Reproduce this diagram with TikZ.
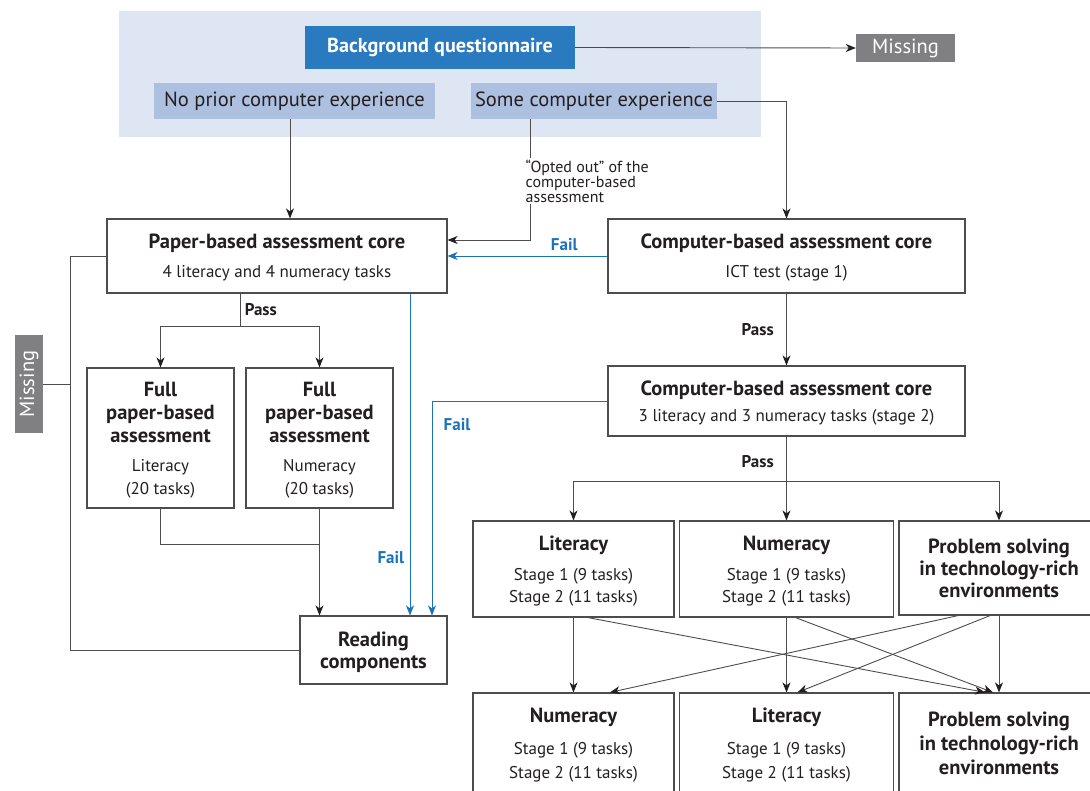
\documentclass[tikz,border=0pt]{standalone}
\usepackage{fontspec}
\setmainfont{PT Sans}
\usepackage{tikz}
\usetikzlibrary{arrows.meta}
\definecolor{panel_blue}{HTML}{DFE6F3}
\definecolor{head_blue}{HTML}{2A7ABF}
\definecolor{light_blue}{HTML}{AEC0E0}
\definecolor{miss_gray}{HTML}{808083}
\definecolor{fail_blue}{HTML}{1A72BB}
\definecolor{ink}{HTML}{231F20}
\definecolor{wire}{HTML}{4D4D4F}
\newcommand{\boxtitle}{\fontsize{20.5}{23}\selectfont\bfseries}
\newcommand{\boxtext}{\fontsize{17}{22}\selectfont}

\begin{document}
\begin{tikzpicture}[x=1pt,y=-1pt,
    box/.style={draw=wire, line width=1.2pt, fill=white, text=ink, align=center, inner sep=0pt, text depth=0pt, font=\boxtext},
    tag/.style={fill=light_blue, text=ink, inner sep=0pt, font=\fontsize{20.5}{22}\selectfont},
    misstag/.style={fill=miss_gray, text=white, inner sep=0pt, font=\fontsize{20.5}{22}\selectfont},
    plain/.style={draw=wire, line width=0.9pt},
    link/.style={plain, -{Stealth[length=10pt,width=8pt,inset=3pt,color=ink]}},
    faillink/.style={draw=fail_blue, line width=0.9pt, -{Stealth[length=10pt,width=8pt,inset=3pt]}},
    passlbl/.style={font=\fontsize{17}{18}\selectfont\bfseries, text=ink},
    faillbl/.style={font=\fontsize{17}{18}\selectfont\bfseries, text=fail_blue},
    note/.style={fill=white, text=ink, align=left, inner sep=1.5pt, font=\fontsize{16}{15}\selectfont}]
    \useasboundingbox (0,0) rectangle (1090,791);
    \clip (0,0) rectangle (1090,791);
    % Background questionnaire panel
    \fill[panel_blue] (119,11) rectangle (761,137);
    \node[fill=head_blue, text=white, font=\fontsize{20.2}{22}\selectfont\bfseries,
        minimum width=270, minimum height=43] (bq) at (440,47.5) {Background questionnaire};
    \node[misstag, minimum width=99, minimum height=28] (misstop) at (905.5,48) {Missing};
    \node[tag, minimum width=281, minimum height=36] (noprior) at (294.5,101) {No prior computer experience};
    \node[tag, minimum width=246, minimum height=36] (somecomp) at (594,101) {Some computer experience};
    % Paper branch
    \node[box, minimum width=340, minimum height=74] (paper) at (277,256)
        {{\boxtitle Paper-based assessment core}\\[7pt]4 literacy and 4 numeracy tasks};
    \node[box, minimum width=147, minimum height=140] (fulllit) at (160.5,438)
        {{\boxtitle Full}\\[1pt]{\boxtitle paper-based}\\[1pt]{\boxtitle assessment}\\[7pt]Literacy\\[1pt](20 tasks)};
    \node[box, minimum width=147, minimum height=140] (fullnum) at (319.5,438)
        {{\boxtitle Full}\\[1pt]{\boxtitle paper-based}\\[1pt]{\boxtitle assessment}\\[7pt]Numeracy\\[1pt](20 tasks)};
    \node[box, minimum width=147, minimum height=68] (reading) at (373.5,650)
        {{\boxtitle Reading}\\{\boxtitle components}};
    \node[misstag, minimum width=28, minimum height=98] (missleft) at (29,384) {\rotatebox{90}{Missing}};
    % Computer branch
    \node[box, minimum width=357, minimum height=74] (cc1) at (786.5,256)
        {{\boxtitle Computer-based assessment core}\\[7pt]ICT test (stage 1)};
    \node[box, minimum width=357, minimum height=70] (cc2) at (786.5,401)
        {{\boxtitle Computer-based assessment core}\\[4pt]3 literacy and 3 numeracy tasks (stage 2)};
    % Stage 1 modules
    \node[box, minimum width=201, minimum height=96] (lit1) at (573.5,569)
        {{\boxtitle Literacy}\\[8pt]Stage 1 (9 tasks)\\Stage 2 (11 tasks)};
    \node[box, minimum width=214, minimum height=96] (num1) at (786.5,569)
        {{\boxtitle Numeracy}\\[8pt]Stage 1 (9 tasks)\\Stage 2 (11 tasks)};
    \node[box, minimum width=200, minimum height=94] (prob1) at (999,568)
        {{\boxtitle Problem solving}\\{\boxtitle in technology-rich}\\{\boxtitle environments}};
    % Stage 2 modules
    \node[box, minimum width=201, minimum height=100] (num2) at (573.5,743)
        {{\boxtitle Numeracy}\\[10pt]Stage 1 (9 tasks)\\[2pt]Stage 2 (11 tasks)};
    \node[box, minimum width=214, minimum height=100] (lit2) at (786.5,743)
        {{\boxtitle Literacy}\\[10pt]Stage 1 (9 tasks)\\[2pt]Stage 2 (11 tasks)};
    \node[box, minimum width=200, minimum height=100] (prob2) at (999,743)
        {{\boxtitle Problem solving}\\[2pt]{\boxtitle in technology-rich}\\[2pt]{\boxtitle environments}};
    % Turning points
    \coordinate (optturn) at (530,240);
    \coordinate (failright) at (432,0);
    \coordinate (failleft) at (410,0);
    \coordinate (papersplit) at (240,326);
    \coordinate (fulljoin) at (319.5,544);
    \coordinate (missbar) at (70,0);
    \coordinate (cc2split) at (786.5,481);
    % Top connectors
    \draw[link] (bq.east) -- (misstop.west);
    \draw[link] ([xshift=-4.5pt]noprior.south) -- ([xshift=-4.5pt]noprior.south |- paper.north);
    \draw[link] (somecomp.south -| optturn) -- (optturn) -- (optturn -| paper.east);
    \node[note, anchor=north west] (optnote) at (524,158) {``Opted out'' of the\\computer-based\\assessment};
    \draw[link] (somecomp.east) -| (cc1.north);
    % Fail routes
    \draw[faillink] (cc1.west) -- node[faillbl, pos=0.27, above=1pt] {Fail} (paper.east);
    \draw[faillink] (cc2.west) -| node[faillbl, pos=0.5, xshift=25pt, yshift=-24pt] {Fail} (reading.north -| failright);
    \draw[faillink] (paper.south -| failleft) -- node[faillbl, pos=0.82, left=2pt] {Fail} (reading.north -| failleft);
    % Paper-based routes
    \draw[plain] (paper.south -| papersplit) -- node[passlbl, right=1pt] {Pass} (papersplit);
    \draw[link] (papersplit) -| (fulllit.north);
    \draw[link] (papersplit) -| (fullnum.north);
    \draw[plain] (fulllit.south) |- (fulljoin);
    \draw[link] (fullnum.south) -- (fullnum.south |- reading.north);
    \draw[plain] (paper.west) -- (paper.west -| missbar) -- (reading.west -| missbar) -- (reading.west);
    \draw[plain] (missleft.east) -- (missleft.east -| missbar);
    % Computer-based routes
    \draw[link] (cc1.south) -- node[passlbl, left=9pt] {Pass} (cc2.north);
    \draw[plain] (cc2.south) -- node[passlbl, left=9pt, yshift=-3pt] {Pass} (cc2split);
    \draw[link] (cc2split) -- (num1.north);
    \draw[link] (cc2split) -| (lit1.north);
    \draw[link] (cc2split) -| (prob1.north);
    % Stage 1 to stage 2
    \draw[link] (lit1.south) -- (num2.north);
    \draw[link] ([xshift=14.5pt]lit1.south) -- ([xshift=-14pt]prob2.north);
    \draw[link] (num1.south) -- (lit2.north);
    \draw[link] ([xshift=9pt]num1.south) -- ([xshift=-6pt]prob2.north);
    \draw[link] ([xshift=-41pt]prob1.south) -- ([xshift=36.5pt]num2.north);
    \draw[link] ([xshift=-9pt]prob1.south) -- ([xshift=11pt]lit2.north);
    \draw[link] (prob1.south) -- (prob2.north);
\end{tikzpicture}
\end{document}
